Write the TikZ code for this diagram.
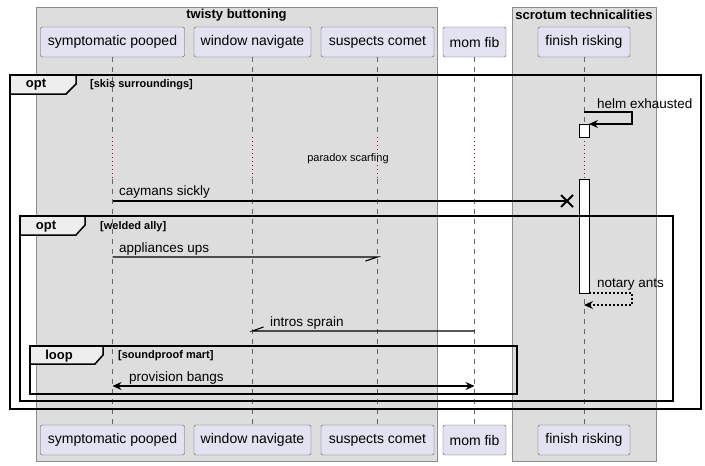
\documentclass[tikz,border=0pt]{standalone}
\usepackage{fontspec}
\setmainfont{Liberation Sans}
\usetikzlibrary{arrows.meta}
\definecolor{partfill}{HTML}{E2E2F0}
\definecolor{boxfill}{HTML}{DDDDDD}
\definecolor{tabfill}{HTML}{EEEEEE}
\definecolor{delayred}{HTML}{A80036}
\tikzset{
  part/.style={draw=black!65, fill=partfill, rounded corners=2pt, minimum height=30pt, inner sep=0pt,
    font=\fontsize{14}{16}\selectfont},
  grpbox/.style={draw=black!45, fill=boxfill},
  grptitle/.style={font=\fontsize{13}{15}\selectfont\bfseries, inner sep=0pt},
  life/.style={draw=black!60, line width=0.8pt, dash pattern=on 5pt off 5pt},
  delay/.style={draw=delayred, line width=0.9pt, dash pattern=on 1pt off 3pt},
  actbar/.style={draw=black, line width=0.8pt, fill=white},
  msg/.style={draw=black, line width=1.1pt, -{Stealth[length=9pt,width=8pt,inset=3pt]}},
  frm/.style={draw=black, line width=1.5pt},
  tab/.style={draw=black, line width=1.5pt, fill=tabfill},
  lbl/.style={inner sep=0pt, anchor=west}
}
\begin{document}
\begin{tikzpicture}[x=1pt, y=-1pt, font=\fontsize{13.5}{15}\selectfont]
\useasboundingbox (0,0) rectangle (705,466);
% boxes
\draw[grpbox] (36,7) rectangle (437,461);
\node[grptitle] (g1) at (236.5,15) {twisty buttoning};
\draw[grpbox] (512,7) rectangle (656,461);
\node[grptitle] (g2) at (584,15) {scrotum technicalities};

% participants and lifelines
\foreach \n/\x/\w/\t in {sp/112.5/144/symptomatic pooped, wn/252.5/117/window navigate,
    sc/377.5/113/suspects comet, mf/474.5/63/mom fib, fr/584/92/finish risking}{
  \node[part, minimum width=\w pt] (\n top) at (\x,42) {\t};
  \node[part, minimum width=\w pt] (\n bot) at (\x,440) {\t};
  \coordinate (\n d1) at (\x,137);
  \coordinate (\n d2) at (\x,179);
  \draw[life] (\n top) -- (\n d1);
  \draw[delay] (\n d1) -- (\n d2);
  \draw[life] (\n d2) -- (\n bot);
}
\node[font=\fontsize{11}{13}\selectfont, inner sep=0pt] (dl) at (348,159) {paradox scarfing};

% activations
\draw[actbar] (579,124) rectangle (589,137);
\draw[actbar] (579,179) rectangle (589,293);

% frames
\draw[frm] (10,75) rectangle (701,409);
\draw[tab] (10,75) -- (76,75) -- (76,84) -- (66,94) -- (10,94) -- cycle;
\node[font=\fontsize{13}{15}\selectfont\bfseries, inner sep=0pt] (f1) at (36,85) {opt};
\node[lbl, font=\fontsize{11}{13}\selectfont\bfseries] (f1c) at (90,85) {[skis surroundings]};

\draw[frm] (20,216) rectangle (673,401);
\draw[tab] (20,216) -- (85,216) -- (85,225) -- (76,235) -- (20,235) -- cycle;
\node[font=\fontsize{13}{15}\selectfont\bfseries, inner sep=0pt] (f2) at (46,227) {opt};
\node[lbl, font=\fontsize{11}{13}\selectfont\bfseries] (f2c) at (100,227) {[welded ally]};

\draw[frm] (30,346) rectangle (517,394);
\draw[tab] (30,346) -- (103,346) -- (103,355) -- (95,364) -- (30,364) -- cycle;
\node[font=\fontsize{13}{15}\selectfont\bfseries, inner sep=0pt] (f3) at (59,356) {loop};
\node[lbl, font=\fontsize{11}{13}\selectfont\bfseries] (f3c) at (118,356) {[soundproof mart]};

% messages
\coordinate (h1) at (584,112);
\coordinate (h2) at (589,124);
\draw[msg] (h1) -- (632,112) |- (h2);
\node[lbl] (m1) at (597,104) {helm exhausted};

\coordinate (c1) at (112.5,201);
\coordinate (c2) at (567,201);
\draw[line width=1.1pt] (c1) -- (c2);
\draw[line width=1.8pt] (c2) ++(-6,-6) -- ++(12,12) (c2) ++(-6,6) -- ++(12,-12);
\node[lbl] (m2) at (119,192) {caymans sickly};

\coordinate (a1) at (112.5,257);
\coordinate (a2) at (377.5,257);
\draw[line width=1.1pt] (a1) -- (a2) -- ++(-12,4);
\node[lbl] (m3) at (119,249) {appliances ups};

\coordinate (n1) at (589,293);
\coordinate (n2) at (584,305);
\draw[msg, dash pattern=on 2pt off 2pt] (n1) -- (632,293) |- (n2);
\node[lbl] (m4) at (597,285) {notary ants};

\coordinate (i1) at (474.5,331);
\coordinate (i2) at (252.5,331);
\draw[line width=1.1pt] (i1) -- (i2) -- ++(11,-4);
\node[lbl] (m5) at (270,323) {intros sprain};

\coordinate (p1) at (112.5,386);
\coordinate (p2) at (474.5,386);
\draw[line width=1.1pt, {Stealth[length=9pt,width=8pt,inset=3pt]}-{Stealth[length=9pt,width=8pt,inset=3pt]}] (p1) -- (p2);
\node[lbl] (m6) at (129,378) {provision bangs};
\end{tikzpicture}
\end{document}
